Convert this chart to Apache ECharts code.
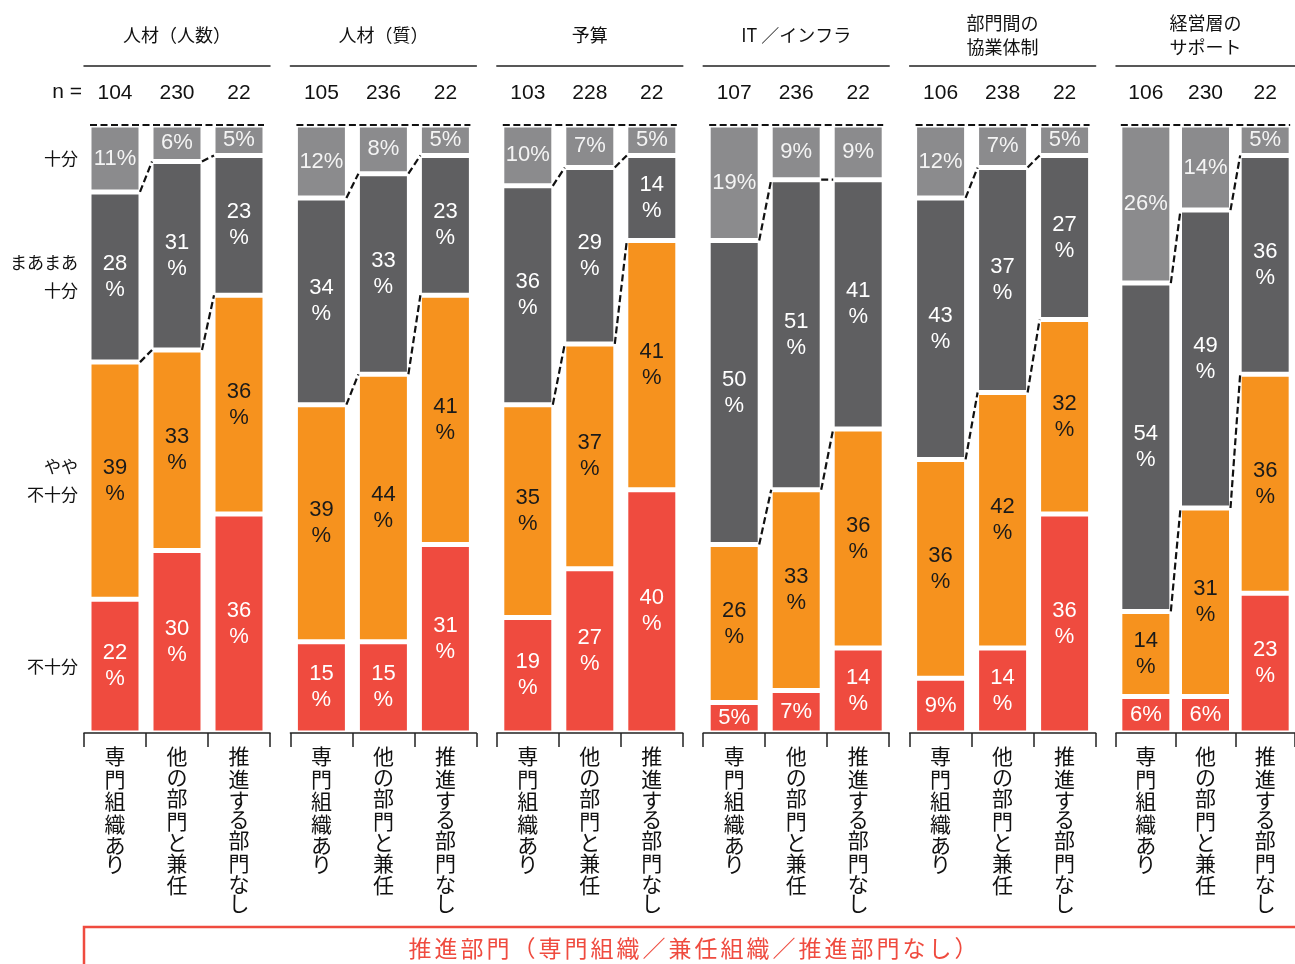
<!DOCTYPE html>
<html><head><meta charset="utf-8">
<script src="https://cdn.jsdelivr.net/npm/echarts@6/dist/echarts.min.js"></script>
<style>html,body{margin:0;padding:0;background:#fff}#c{width:1295px;height:964px}</style>
</head><body><div id="c"></div>
<script>
// ---- data ----
const groupTitles = ['人材（人数）', '人材（質）', '予算', 'IT ／インフラ', '部門間の\n協業体制', '経営層の\nサポート'];
const categories = ['専門組織あり', '他の部門と兼任', '推進する部門なし'];
const nValues = [[104, 230, 22], [105, 236, 22], [103, 228, 22], [107, 236, 22], [106, 238, 22], [106, 230, 22]];
const seriesNames = ['不十分', 'やや不十分', 'まあまあ十分', '十分'];
const leftLabels = ['不十分', 'やや\n不十分', 'まあまあ\n十分', '十分'];
const insufficient = [[22, 30, 36], [15, 15, 31], [19, 27, 40], [5, 7, 14], [9, 14, 36], [6, 6, 23]];
const somewhatInsufficient = [[39, 33, 36], [39, 44, 41], [35, 37, 41], [26, 33, 36], [36, 42, 32], [14, 31, 36]];
const fairlySufficient = [[28, 31, 23], [34, 33, 23], [36, 29, 14], [50, 51, 41], [43, 37, 27], [54, 49, 36]];
const sufficient = [[11, 6, 5], [12, 8, 5], [10, 7, 5], [19, 9, 9], [12, 7, 5], [26, 14, 5]];
const footerText = '推進部門（専門組織／兼任組織／推進部門なし）';

// ---- style ----
const FONT = "'Liberation Sans', 'Noto Sans CJK JP', sans-serif";
const CJK = "'Noto Sans CJK JP', sans-serif";
const colors = ['#ef4b3f', '#f6921e', '#5f5f61', '#8b8b8d'];
const labelColors = ['#ffffff', '#1a1a1a', '#ffffff', '#f4f4f4'];
const RED = '#ef4b3f';
const GRID_LEFT0 = 84, GRID_PITCH = 206.4, GRID_W = 186, GRID_TOP = 125, GRID_H = 608;
const BAR_W = 52, BAR_HALF = 25;

const stacks = [insufficient, somewhatInsufficient, fairlySufficient, sufficient];
const isKana = c => /[\u3040-\u309f]/.test(c);

const chart = echarts.init(document.getElementById('c'), null, { renderer: 'canvas' });

const grids = [], xAxes = [], yAxes = [], series = [];
groupTitles.forEach((title, g) => {
  grids.push({ left: GRID_LEFT0 + g * GRID_PITCH, top: GRID_TOP, width: GRID_W, height: GRID_H, containLabel: false });
  // bottom category axis
  xAxes.push({
    type: 'category', gridIndex: g, data: categories, position: 'bottom', z: 5,
    axisLine: { show: true, lineStyle: { color: '#222', width: 1.5 } },
    axisTick: { show: true, length: 14, lineStyle: { color: '#222', width: 1.5 } },
    axisLabel: {
      interval: 0, margin: 12, color: '#111', fontSize: 21, fontFamily: CJK, verticalAlign: 'top',
      formatter: s => s.split('').map(c => (isKana(c) ? '{h|' : '{k|') + c + '}').join('\n'),
      rich: {
        k: { fontSize: 21, lineHeight: 22.5, fontFamily: CJK, color: '#111' },
        h: { fontSize: 21, lineHeight: 19.5, fontFamily: CJK, color: '#111' }
      }
    }
  });
  // top axis: header line, n values, group title
  xAxes.push({
    type: 'category', gridIndex: g, data: nValues[g].map(String), position: 'top', offset: 59,
    axisLine: { show: true, lineStyle: { color: '#222', width: 1.5 } },
    axisTick: { show: false },
    axisLabel: { inside: true, interval: 0, margin: 17, color: '#111', fontSize: 21, fontFamily: FONT, verticalAlign: 'top' },
    name: title, nameLocation: 'middle', nameGap: 31,
    nameTextStyle: { fontSize: 18, lineHeight: 24, color: '#111', fontFamily: CJK, verticalAlign: 'middle' }
  });
  yAxes.push({ type: 'value', gridIndex: g, min: 0, max: 100, show: false });

  stacks.forEach((arr, k) => {
    series.push({
      type: 'bar', name: seriesNames[k], xAxisIndex: g * 2, yAxisIndex: g, stack: 'g' + g,
      barWidth: BAR_W, data: arr[g],
      itemStyle: { color: colors[k], borderColor: '#fff', borderWidth: 2.5 },
      label: {
        show: true, position: 'inside', color: labelColors[k], fontSize: 22, lineHeight: 26, fontFamily: FONT,
        formatter: p => (k === 3 || p.value < 10) ? p.value + '%' : p.value + '\n%'
      },
      emphasis: { disabled: true }, animation: false
    });
  });

  // dashed connectors
  const cum = [0, 1, 2].map(i => {
    const a = insufficient[g][i] + somewhatInsufficient[g][i];
    return [a, a + fairlySufficient[g][i]];
  });
  const lines = [[0, 100, 2, 100, -1, 1]];
  for (let i = 0; i < 2; i++) {
    for (let b = 0; b < 2; b++) lines.push([i, cum[i][b], i + 1, cum[i + 1][b], 1, -1]);
  }
  series.push({
    type: 'custom', xAxisIndex: g * 2, yAxisIndex: g, z: 10, animation: false, silent: true,
    encode: { x: [0, 2], y: [1, 3] },
    data: lines,
    renderItem: (params, api) => {
      const a = api.coord([api.value(0), api.value(1)]);
      const b = api.coord([api.value(2), api.value(3)]);
      return {
        type: 'line',
        shape: { x1: a[0] + api.value(4) * BAR_HALF, y1: a[1], x2: b[0] + api.value(5) * BAR_HALF, y2: b[1] },
        style: { stroke: '#111', lineWidth: 2.2, lineDash: [7, 3.5], fill: null }
      };
    }
  });
});

chart.setOption({
  backgroundColor: '#fff', animation: false,
  grid: grids, xAxis: xAxes, yAxis: yAxes, series: series
});

// left-side row labels aligned to the first bar of the first group
const graphics = [];
let base = 0;
stacks.forEach((arr, k) => {
  const v = arr[0][0];
  const mid = base + v / 2;
  base += v;
  const p = chart.convertToPixel({ gridIndex: 0 }, [0, mid]);
  graphics.push({
    type: 'text', x: 78, y: p[1],
    style: { text: leftLabels[k], align: 'right', verticalAlign: 'middle', fill: '#111', font: '17px ' + CJK, lineHeight: 28 }
  });
});
graphics.push({
  type: 'text', x: 82, y: 92,
  style: { text: 'n =', align: 'right', verticalAlign: 'middle', fill: '#111', font: '21px ' + FONT }
});
graphics.push({
  type: 'rect', shape: { x: 84, y: 927, width: 1218, height: 80 },
  style: { fill: 'none', stroke: RED, lineWidth: 2.5 }
});
graphics.push({
  type: 'text', x: 693, y: 948,
  style: {
    text: footerText.split('').map(c => '{c|' + c + '}').join(''),
    align: 'center', verticalAlign: 'middle',
    rich: { c: { width: 26, align: 'center', fontSize: 23, fontFamily: CJK, fill: RED } }
  }
});
chart.setOption({ graphic: graphics });
</script></body></html>
